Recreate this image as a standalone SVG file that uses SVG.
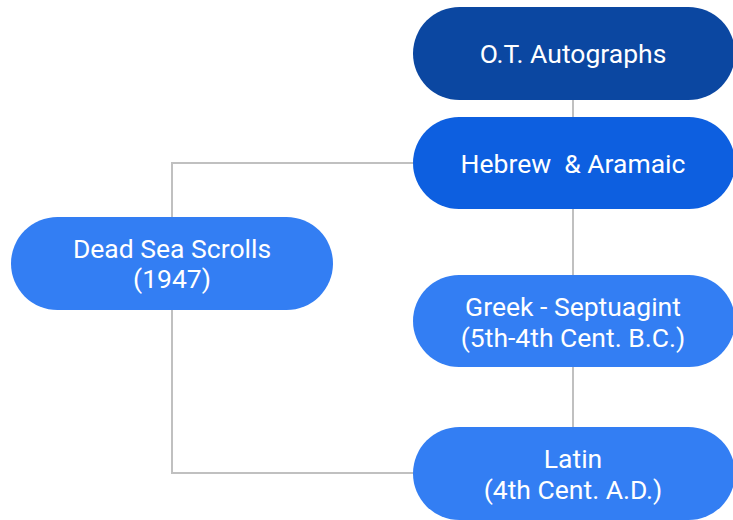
<svg xmlns="http://www.w3.org/2000/svg" width="733" height="520" viewBox="0 0 733 520">
<style>
.n text{font-family:Roboto,"Liberation Sans",sans-serif;font-size:26.5px;fill:#ffffff;text-anchor:middle}
.c{fill:none;stroke:#c0c0c0;stroke-width:2}
.dark{fill:#0b47a1}
.mid{fill:#0d5fe0}
.light{fill:#337ef3}
</style>
<rect width="733" height="520" fill="#ffffff"/>
<g id="connectors">
<path class="c" d="M573,100V117"/>
<path class="c" d="M573,209V275"/>
<path class="c" d="M573,367V427"/>
<path class="c" d="M413,163H172V217"/>
<path class="c" d="M172,310V473H413"/>
</g>
<g id="ot" class="n">
<rect class="dark" x="413" y="7" width="322" height="93" rx="46.5"/>
<text x="573" y="63">O.T. Autographs</text>
</g>
<g id="hebrew" class="n">
<rect class="mid" x="413" y="117" width="322" height="92" rx="46"/>
<text x="573" y="173" xml:space="preserve">Hebrew  &amp; Aramaic</text>
</g>
<g id="dss" class="n">
<rect class="light" x="11" y="217" width="322" height="93" rx="46.5"/>
<text x="172" y="258">Dead Sea Scrolls</text>
<text x="172" y="288">(1947)</text>
</g>
<g id="greek" class="n">
<rect class="light" x="413" y="275" width="322" height="92" rx="46"/>
<text x="573" y="316">Greek - Septuagint</text>
<text x="573" y="347">(5th-4th Cent. B.C.)</text>
</g>
<g id="latin" class="n">
<rect class="light" x="413" y="427" width="322" height="93" rx="46.5"/>
<text x="573" y="468">Latin</text>
<text x="573" y="499">(4th Cent. A.D.)</text>
</g>
</svg>
